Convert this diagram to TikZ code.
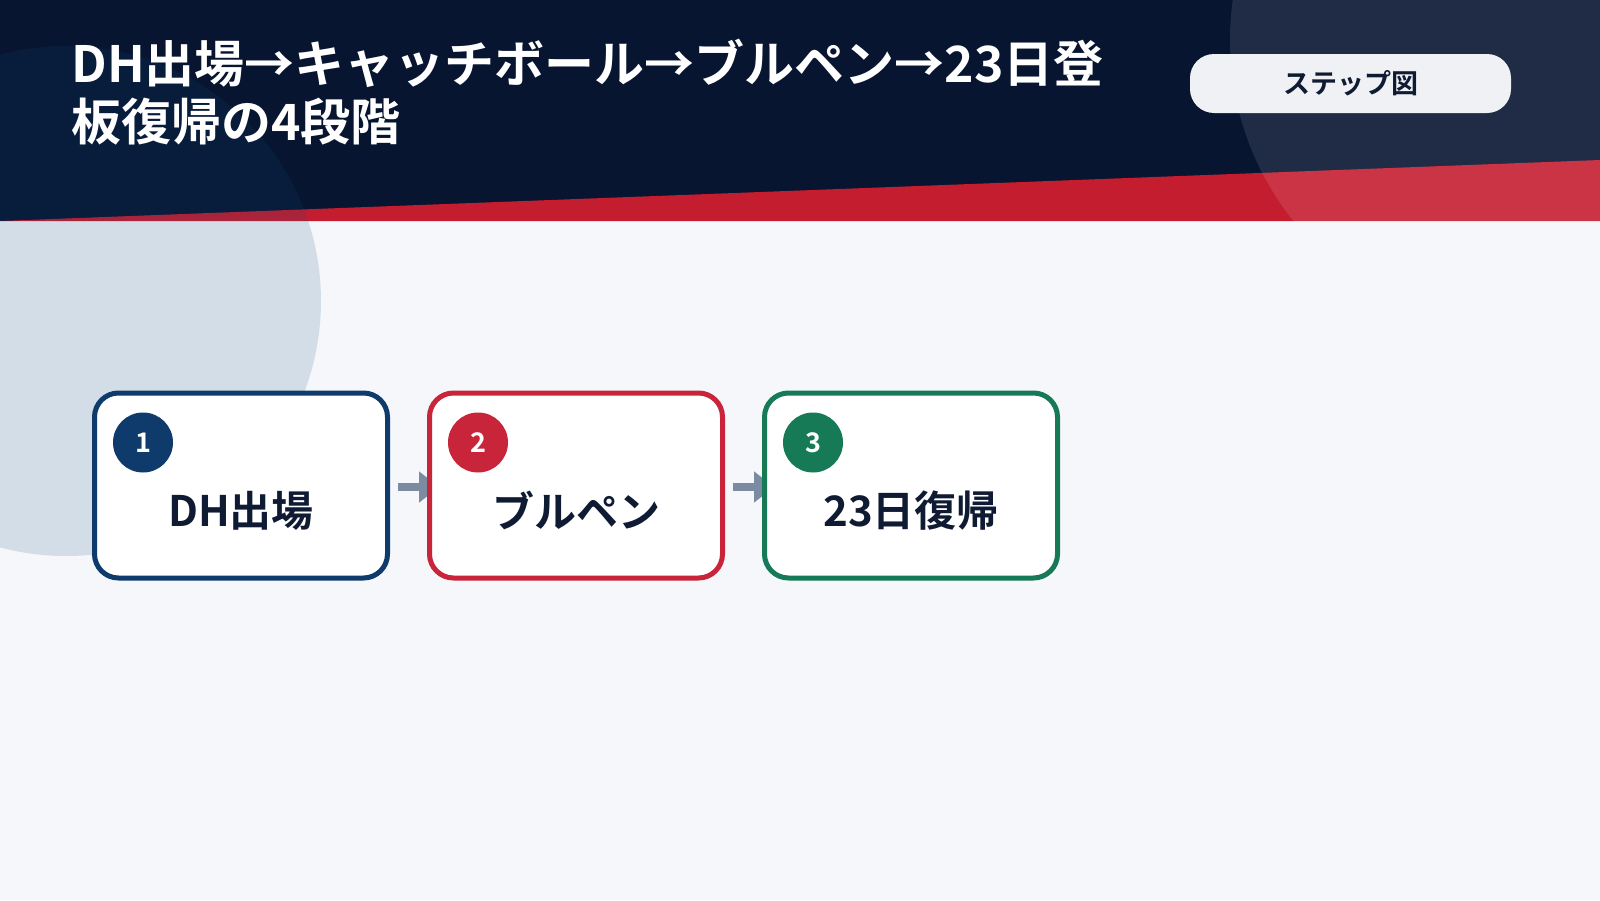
\documentclass[tikz,border=0pt]{standalone}
\usepackage{fontspec}
\setmainfont{Noto Sans CJK JP}[BoldFont={Noto Sans CJK JP Bold}]
\usetikzlibrary{arrows.meta,calc}
\definecolor{bgc}{HTML}{F5F7FA}
\definecolor{navyhd}{HTML}{071530}
\definecolor{redhd}{HTML}{C41D2F}
\definecolor{ovblue}{HTML}{0F4C81}
\definecolor{cone}{HTML}{0E3A6C}
\definecolor{ctwo}{HTML}{C8243A}
\definecolor{cthree}{HTML}{177A57}
\definecolor{arrgray}{HTML}{7B8BA1}
\definecolor{txtdark}{HTML}{0F1B33}
\definecolor{pillc}{HTML}{EFF1F4}
\tikzset{
  stepbox/.style={draw, line width=2.5pt, fill=white, rounded corners=12pt,
    minimum width=146.5pt, minimum height=92.5pt, inner sep=0pt},
  badge/.style={circle, minimum size=30pt, inner sep=0pt, text=white,
    font=\fontsize{13.5}{15}\selectfont\bfseries},
  steplabel/.style={text=txtdark, inner sep=0pt, font=\fontsize{21}{25}\selectfont\bfseries},
  flowarrow/.style={draw=arrgray, line width=4pt, -{Triangle[length=10pt,width=15pt]}},
}
\begin{document}
\begin{tikzpicture}[x=0.5pt,y=-0.5pt]
\useasboundingbox (0,0) rectangle (1600,900);
\clip (0,0) rectangle (1600,900);
% background
\fill[bgc] (0,0) rectangle (1600,900);
\fill[navyhd] (0,0) rectangle (1600,221);
\fill[redhd] (0,221) -- (1600,160) -- (1600,221) -- cycle;
% decorative circles
\fill[ovblue, fill opacity=0.15] (66,301) circle[radius=255];
\fill[white, fill opacity=0.1] (1520,40) circle[radius=290];
% title
\node[anchor=base west, inner sep=0pt, text=white, align=left,
  font=\fontsize{25}{29}\selectfont\bfseries] (title) at (71,140)
  {DH出場→キャッチボール→ブルペン→23日登\\板復帰の4段階};
% pill
\node[fill=pillc, rounded corners=12pt,
  minimum width=160.5pt, minimum height=29.5pt, inner sep=0pt, text=txtdark,
  font=\fontsize{13.5}{16}\selectfont\bfseries] (pill) at (1350.5,83.5) {ステップ図};
% boxes (positions)
\coordinate (p1) at (241,485.5);
\coordinate (p2) at (576,485.5);
\coordinate (p3) at (911,485.5);
% arrows drawn under boxes
\path (p1) ++(149,1.5) coordinate (a1s);
\path (p2) ++(-149,1.5) coordinate (a1e);
\path (p2) ++(149,1.5) coordinate (a2s);
\path (p3) ++(-149,1.5) coordinate (a2e);
\draw[flowarrow] ($(a1s)+(8,0)$) -- ($(a1e)+(12,0)$);
\draw[flowarrow] ($(a2s)+(8,0)$) -- ($(a2e)+(12,0)$);
% boxes
\node[stepbox, draw=cone] (b1) at (p1) {};
\node[stepbox, draw=ctwo] (b2) at (p2) {};
\node[stepbox, draw=cthree] (b3) at (p3) {};
% badges
\node[badge, fill=cone] (n1) at ($(b1.north west)+(51,52)$) {1};
\node[badge, fill=ctwo] (n2) at ($(b2.north west)+(51,52)$) {2};
\node[badge, fill=cthree] (n3) at ($(b3.north west)+(51,52)$) {3};
% labels
\node[steplabel] (l1) at ($(b1.center)+(0,25)$) {DH出場};
\node[steplabel] (l2) at ($(b2.center)+(0,25)$) {ブルペン};
\node[steplabel] (l3) at ($(b3.center)+(0,25)$) {23日復帰};
\end{tikzpicture}
\end{document}
